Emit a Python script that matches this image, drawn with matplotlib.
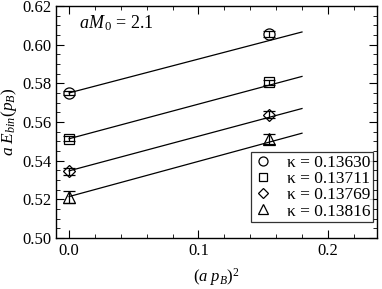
import numpy as np
import matplotlib.pyplot as plt
from matplotlib.ticker import MultipleLocator
from matplotlib.lines import Line2D

plt.rcParams['font.family'] = 'Liberation Serif'
plt.rcParams['mathtext.fontset'] = 'custom'
plt.rcParams['mathtext.rm'] = 'Liberation Serif'
plt.rcParams['mathtext.it'] = 'Liberation Serif:italic'

# data
kappas = ['0.13630', '0.13711', '0.13769', '0.13816']
markers = ['o', 's', 'D', '^']
msizes = [8, 7, 6.5, 8]
p2 = [0.0, 0.1545]
energy = [[0.5751, 0.6055],
          [0.5514, 0.5807],
          [0.5345, 0.5638],
          [0.5212, 0.5512]]
errors = [[0.0012, 0.0015],
          [0.0012, 0.0013],
          [0.0018, 0.0017],
          [0.0030, 0.0025]]
fit_intercept = [0.5751, 0.5514, 0.5348, 0.5215]
fit_slope = [0.175, 0.179, 0.179, 0.182]
fit_range = [0.0, 0.18]

fig, ax = plt.subplots(figsize=(3.82, 2.89), dpi=100)
fig.subplots_adjust(left=0.147, right=0.987, top=0.979, bottom=0.176)

xf = np.array(fit_range)
handles = []
for i in range(len(kappas)):
    ax.plot(xf, fit_intercept[i] + fit_slope[i] * xf, color='black', lw=0.9)
    ax.errorbar(p2, energy[i], yerr=errors[i], fmt=markers[i], ms=msizes[i],
                mfc='none', mec='black', mew=0.9, ecolor='black', elinewidth=0.9,
                capsize=4, capthick=0.9)
    handles.append(Line2D([], [], ls='none', marker=markers[i], ms=msizes[i] - 1.5,
                          mfc='none', mec='black', mew=0.9,
                          label='κ = ' + kappas[i]))

ax.set_xlim(-0.01, 0.238)
ax.set_ylim(0.50, 0.62)
ax.xaxis.set_major_locator(MultipleLocator(0.1))
ax.xaxis.set_minor_locator(MultipleLocator(0.02))
ax.yaxis.set_major_locator(MultipleLocator(0.02))
ax.yaxis.set_minor_locator(MultipleLocator(0.005))
ax.xaxis.set_major_formatter(plt.FormatStrFormatter('%.1f'))
ax.yaxis.set_major_formatter(plt.FormatStrFormatter('%.2f'))
ax.tick_params(which='both', direction='in', top=True, right=True, labelsize=12)
ax.tick_params(which='major', length=6)
ax.tick_params(which='minor', length=3)
for s in ax.spines.values():
    s.set_linewidth(1.0)

ax.set_xlabel(r'$(a\ p_B)^2$', fontsize=12, labelpad=5)
ax.set_ylabel(r'$a\ E_{bin}(p_B)$', fontsize=12.5, labelpad=2)
ax.text(0.008, 0.6085, r'$aM_{\,0}$ = 2.1', fontsize=13)

leg = ax.legend(handles=handles, loc='lower right', fontsize=12.5, frameon=True,
                fancybox=False, edgecolor='black', handlelength=1.0,
                handletextpad=0.9, borderpad=0.15, labelspacing=0.0,
                borderaxespad=0, bbox_to_anchor=(0.988, 0.069))
leg.get_frame().set_linewidth(0.9)

fig.savefig('out.png', dpi=100)
